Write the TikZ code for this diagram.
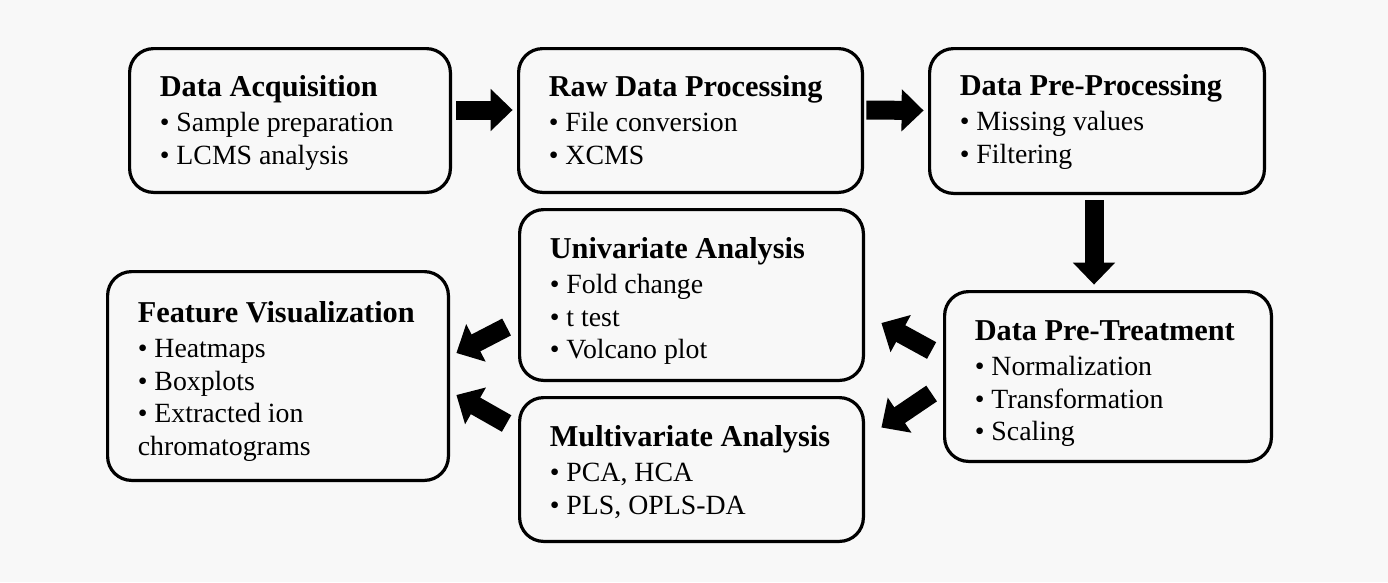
\documentclass[tikz,border=0pt]{standalone}
\usepackage{fontspec}
\setmainfont{Liberation Serif}
\usetikzlibrary{arrows.meta,calc}
\definecolor{bg}{HTML}{F8F8F8}
\tikzset{
  box/.style={draw=black, line width=3.2pt, rounded corners=24pt, fill=bg, inner sep=0pt, outer sep=0pt},
  txt/.style={anchor=base west, align=left, inner sep=0pt, font=\fontsize{27.8}{32.5}\selectfont},
  barrow/.style={line width=19pt, -{Triangle[width=41pt,length=22pt]}}
}
\newcommand{\ttl}[1]{{\fontsize{30.3}{32.5}\selectfont\bfseries #1}\\[2.5pt]}
\begin{document}
\begin{tikzpicture}[x=1pt,y=-1pt]
\fill[bg] (0,0) rectangle (1388,582);
\useasboundingbox (0,0) rectangle (1388,582);
% boxes
\node[box, minimum width=320.8pt, minimum height=143.8pt] (b1) at (290,120.5) {};
\node[box, minimum width=343.8pt, minimum height=143.8pt] (b2) at (690.5,120.5) {};
\node[box, minimum width=334.8pt, minimum height=144.8pt] (b3) at (1097,121) {};
\node[box, minimum width=343.8pt, minimum height=170.8pt] (b4) at (691.5,295) {};
\node[box, minimum width=340.8pt, minimum height=208.8pt] (b5) at (278,376) {};
\node[box, minimum width=326.8pt, minimum height=169.8pt] (b6) at (1108,376.5) {};
\node[box, minimum width=343.8pt, minimum height=143.8pt] (b7) at (691.5,469.5) {};
% texts (anchor = baseline of last line)
\node[txt] (t1) at ($(b1.north west)+(30,115.5)$) {\ttl{Data Acquisition}• Sample preparation\\• LCMS analysis};
\node[txt] (t2) at ($(b2.north west)+(30,115.5)$) {\ttl{Raw Data Processing}• File conversion\\• XCMS};
\node[txt] (t3) at ($(b3.north west)+(30,114.5)$) {\ttl{Data Pre-Processing}• Missing values\\• Filtering};
\node[txt] (t4) at ($(b4.north west)+(30,149)$) {\ttl{Univariate Analysis}• Fold change\\• t test\\• Volcano plot};
\node[txt] (t5) at ($(b5.north west)+(30,183.5)$) {\ttl{Feature Visualization}• Heatmaps\\• Boxplots\\• Extracted ion\\chromatograms};
\node[txt] (t6) at ($(b6.north west)+(30,149)$) {\ttl{Data Pre-Treatment}• Normalization\\• Transformation\\• Scaling};
\node[txt] (t7) at ($(b7.north west)+(30,116.5)$) {\ttl{Multivariate Analysis}• PCA, HCA\\• PLS, OPLS-DA};
% arrows
\draw[barrow] ($(b1.east)+(6,-10.5)$) -- ($(b2.west)+(-6,-10.5)$);
\draw[barrow] ($(b2.east)+(4,-10.5)$) -- ($(b3.west)+(-6,-10.5)$);
\draw[barrow] ($(b3.south)+(-3,7)$) -- ($(b6.north)+(-14,-7)$);
\draw[barrow] ($(b6.west)+(-13,-26)$) -- ($(b4.east)+(18,28)$);
\draw[barrow] ($(b6.west)+(-13,17)$) -- ($(b7.east)+(18,-42)$);
\draw[barrow] ($(b4.west)+(-13,32)$) -- ($(b5.east)+(8,-23)$);
\draw[barrow] ($(b7.west)+(-13,-46)$) -- ($(b5.east)+(8,19)$);
\end{tikzpicture}
\end{document}
